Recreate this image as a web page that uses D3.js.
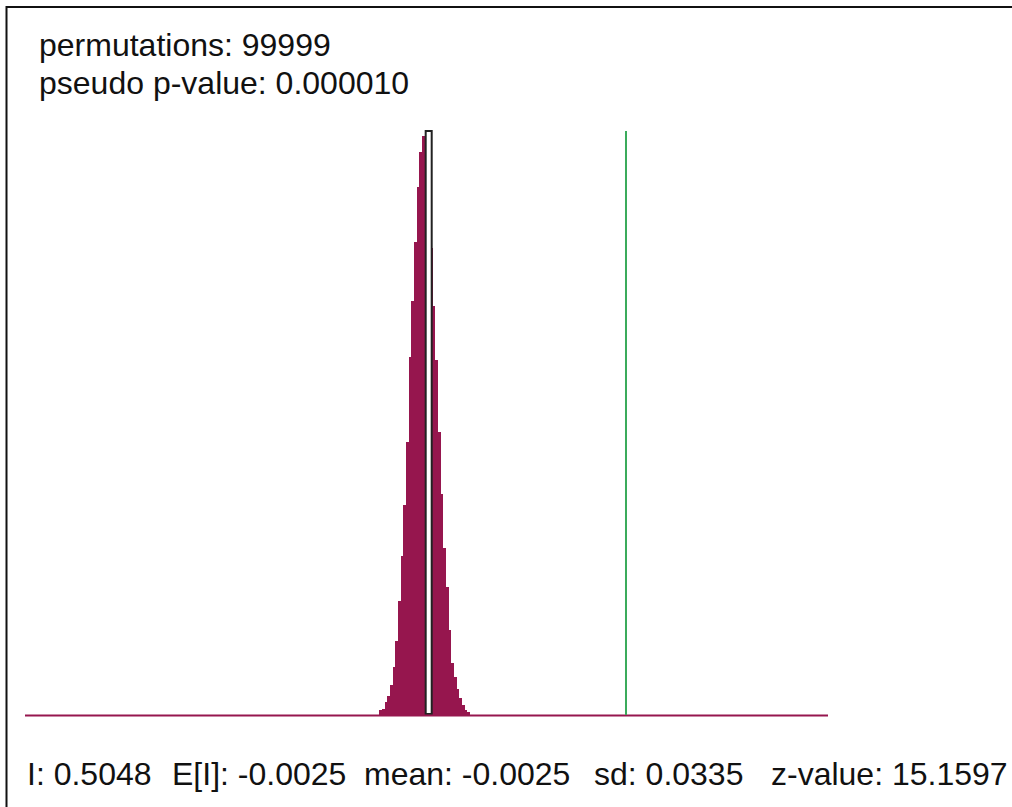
<!DOCTYPE html>
<html>
<head>
<meta charset="utf-8">
<script src="https://cdn.jsdelivr.net/npm/d3@7"></script>
<style>
	html, body { margin: 0; background: #fff; overflow: hidden; }
	svg { display: block; }
	svg text { font-family: "Liberation Sans", Arial, Helvetica, sans-serif; fill: #111; }
</style>
</head>
<body>
<svg id="chart"></svg>
<script>
// permutation test summary
const PERMUTATIONS = 99999;
const PSEUDO_P = "0.000010";
const OBSERVED_I = 0.5048;
const EXPECTED_I = -0.0025;
const MEAN_I = -0.0025;
const SD_I = 0.0335;
const Z_VALUE = 15.1597;

// histogram of permuted I values
const BIN_START = -0.1305;
const BIN_WIDTH = 0.006876;
const binCounts = [
	68, 82, 181, 258, 408, 653, 1020, 1564, 2176, 2870, 3740, 4910, 5671, 6474, 7235, 7711, 7929,
	8000, 7400, 6400,
	5603, 4869, 3876, 3033, 2285, 1754, 1170, 707, 517, 354, 231, 136, 68, 41,
];
// bins hidden under the outlined box (the one holding the mean)
const boxBins = [17, 18, 19];

const X_MIN = -1.0429;
const X_MAX = 1.025;

const WIDTH = 1012;
const HEIGHT = 807;
const svg = d3.select("#chart").attr("width", WIDTH).attr("height", HEIGHT);

const xScale = d3.scaleLinear([X_MIN, X_MAX], [25, 828]);
const yScale = d3.scaleLinear([0, d3.max(binCounts)], [715, 131]);

const bins = binCounts.map((c, i) => ({
	x0: BIN_START + i * BIN_WIDTH,
	x1: BIN_START + (i + 1) * BIN_WIDTH,
	count: c,
}));

const BAR_COLOR = "#96164e";

// frame
svg.append("line")
	.attr("x1", 6.5).attr("x2", 6.5).attr("y1", 6).attr("y2", HEIGHT)
	.attr("stroke", "#111").attr("stroke-width", 2);
svg.append("line")
	.attr("x1", 6).attr("x2", WIDTH).attr("y1", 7).attr("y2", 7)
	.attr("stroke", "#111").attr("stroke-width", 2);

svg.selectAll(".bar")
	.data(bins)
	.join("rect")
	.classed("bar", true)
	.attr("shape-rendering", "crispEdges")
	.attr("x", d => Math.round(xScale(d.x0)))
	.attr("width", d => Math.round(xScale(d.x1)) - Math.round(xScale(d.x0)))
	.attr("y", d => Math.round(yScale(d.count)))
	.attr("height", d => Math.round(yScale(0)) - Math.round(yScale(d.count)))
	.attr("fill", BAR_COLOR);

// outlined box over the mean bins
const b0 = bins[boxBins[0]];
const b1 = bins[boxBins[boxBins.length - 1]];
svg.append("rect")
	.attr("x", xScale(b0.x0) + 1)
	.attr("width", xScale(b1.x1) - xScale(b0.x0) - 2)
	.attr("y", yScale(d3.max(binCounts)))
	.attr("height", yScale(0) - yScale(d3.max(binCounts)) - 1)
	.attr("fill", "#fff")
	.attr("stroke", "#222")
	.attr("stroke-width", 2);

// baseline
svg.append("line")
	.attr("x1", xScale(X_MIN)).attr("x2", xScale(X_MAX))
	.attr("y1", yScale(0) + 0.5).attr("y2", yScale(0) + 0.5)
	.attr("stroke", BAR_COLOR).attr("stroke-width", 2);

// observed I
svg.append("line")
	.attr("x1", xScale(OBSERVED_I)).attr("x2", xScale(OBSERVED_I))
	.attr("y1", yScale(d3.max(binCounts))).attr("y2", yScale(0))
	.attr("stroke", "#3bab5c").attr("stroke-width", 2);

const FONT = 32;
svg.append("text").attr("x", 39).attr("y", 56).attr("font-size", FONT)
	.text(`permutations: ${PERMUTATIONS}`);
svg.append("text").attr("x", 39).attr("y", 94).attr("font-size", FONT)
	.text(`pseudo p-value: ${PSEUDO_P}`);

const stats = [
	{ x: 27, text: `I: ${OBSERVED_I.toFixed(4)}` },
	{ x: 172, text: `E[I]: ${EXPECTED_I.toFixed(4)}` },
	{ x: 364, text: `mean: ${MEAN_I.toFixed(4)}` },
	{ x: 594, text: `sd: ${SD_I.toFixed(4)}` },
	{ x: 771, text: `z-value: ${Z_VALUE.toFixed(4)}` },
];
svg.selectAll(".stat")
	.data(stats)
	.join("text")
	.classed("stat", true)
	.attr("x", d => d.x)
	.attr("y", 785)
	.attr("font-size", FONT)
	.text(d => d.text);
</script>
</body>
</html>
